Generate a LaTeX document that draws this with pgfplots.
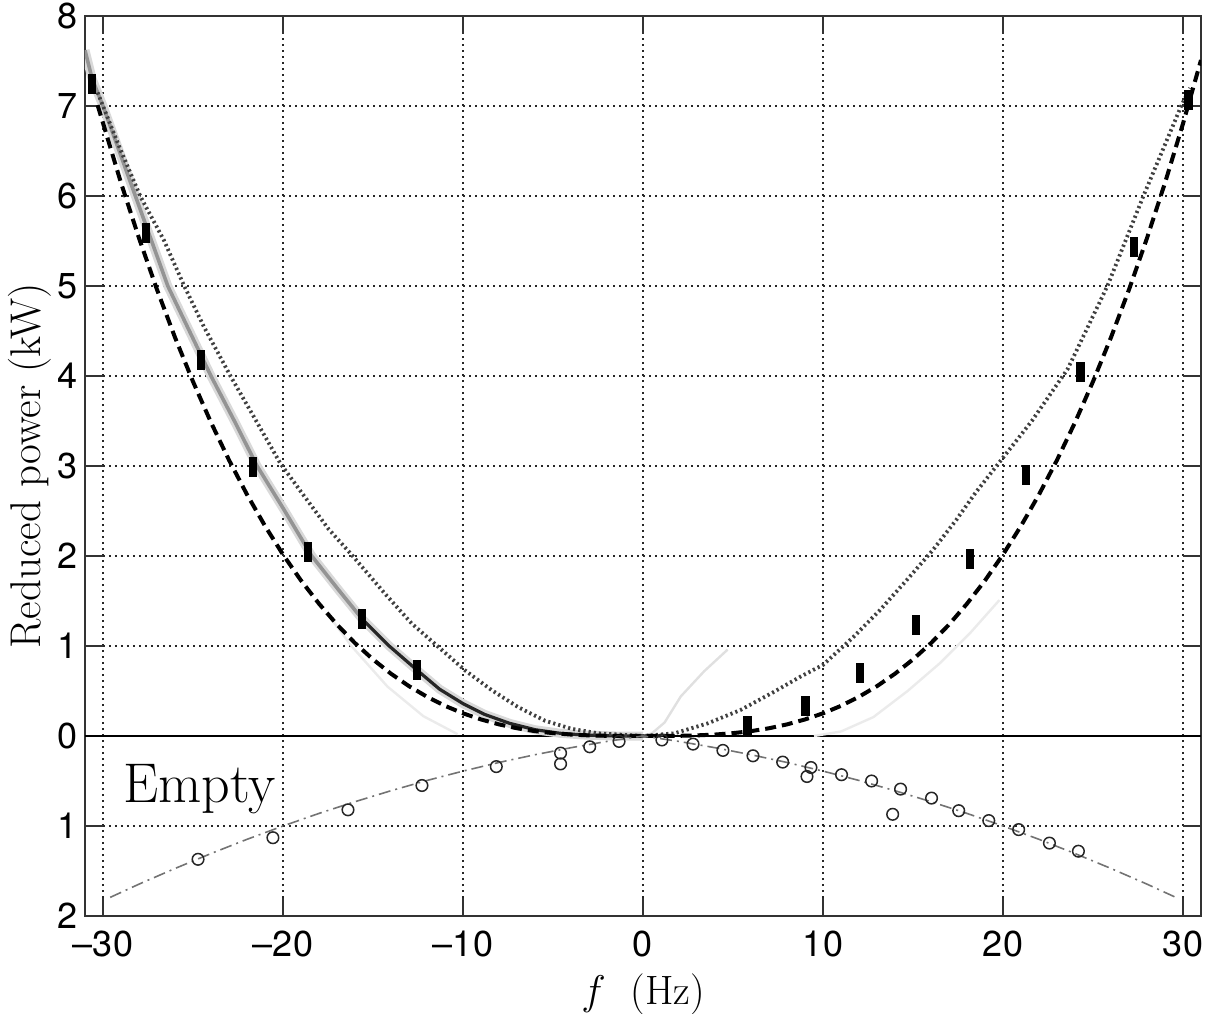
\documentclass[border=0pt]{standalone}
\usepackage{pgfplots}
\pgfplotsset{compat=1.18}
\usepackage{fontspec}
\newfontfamily\helv{TeX Gyre Heros}
\begin{document}
\begin{tikzpicture}
\begin{axis}[
  scale only axis, width=558pt, height=450pt,
  xmin=-31, xmax=31, ymin=-2, ymax=8,
  xtick={-30,-20,...,30}, xticklabels={–30,–20,–10,0,10,20,30},
  ytick={-2,-1,...,8}, yticklabels={2,1,0,1,2,3,4,5,6,7,8},
  tick align=inside, tick pos=both, major tick length=9pt,
  grid=major,
  major grid style={black!85, line width=0.6pt, dash pattern=on 0.9pt off 2.1pt},
  axis line style={black!80, line width=0.8pt},
  every tick/.style={black!80, line width=0.8pt},
  ticklabel style={font=\helv\fontsize{18}{21}\selectfont},
  xticklabel style={inner sep=0pt, yshift=-7.5pt},
  yticklabel style={inner sep=0pt, xshift=-3.5pt},
  xlabel={$f$\ \ (Hz)},
  xlabel style={font=\fontsize{20.5}{24}\selectfont, at={(rel axis cs:0.5,0)}, anchor=base, yshift=-44pt},
  ylabel={Reduced power (kW)},
  ylabel style={font=\fontsize{21.5}{26}\selectfont, at={(rel axis cs:0,0.5)}, anchor=center, yshift=27.5pt},
]
% zero line
\addplot[black, line width=0.6pt] coordinates {(-31,0) (31,0)};
% faint mirror traces
\addplot[black!12, line width=1.2pt] coordinates {(0,0) (0.5,0.03) (1.2,0.15) (2.1,0.44) (3.4,0.72) (4.7,0.96)};
\addplot[black!8, line width=1.2pt] coordinates {(9.5,0) (11,0.05) (12.8,0.21) (14.7,0.5) (16.5,0.81) (18.2,1.15) (19.8,1.51)};
\addplot[black!8, line width=1.2pt] coordinates {(-10.3,0.02) (-12.2,0.22) (-14.2,0.55) (-16.2,1.0) (-17.5,1.35)};
% gray ridge (left)
\addplot[black!15, line width=4.5pt] coordinates {(-31.0,7.62) (-30.6,7.3) (-30.0,7.0) (-29.1,6.5) (-28.2,6.0) (-27.3,5.5) (-26.4,5.0) (-25.2,4.5) (-24.0,4.0) (-22.7,3.5) (-21.44,3.0) (-19.9,2.5) (-18.4,2.0) (-16.9,1.62) (-15.6,1.30) (-14.1,1.0) (-12.6,0.74) (-11.3,0.52) (-10.0,0.36) (-8.8,0.24) (-7.4,0.14) (-6.0,0.07) (-4.6,0.03) (-3.2,0.01) (-1.5,0) (0,0)};
\addplot[black!42, line width=1.8pt] coordinates {(-31.0,7.62) (-30.6,7.3) (-30.0,7.0) (-29.1,6.5) (-28.2,6.0) (-27.3,5.5) (-26.4,5.0) (-25.2,4.5) (-24.0,4.0) (-22.7,3.5) (-21.44,3.0) (-19.9,2.5) (-18.4,2.0) (-16.9,1.62) (-15.6,1.30)};
\addplot[black!85, line width=1.6pt] coordinates {(-15.6,1.30) (-14.1,1.0) (-12.6,0.74) (-11.3,0.52) (-10.0,0.36) (-8.8,0.24) (-7.4,0.14) (-6.0,0.07) (-4.6,0.03) (-3.2,0.01) (-1.5,0) (0,0) (1,0)};
% dotted curve
\addplot[black!75, line width=1.9pt, dash pattern=on 1.1pt off 1.5pt] coordinates {(-30.3,7.15) (-29.02,6.51) (-27.91,5.99) (-26.62,5.51) (-25.51,5.01) (-24.4,4.55) (-22.92,4.0) (-21.63,3.55) (-20.15,3.03) (-18.95,2.7) (-17.47,2.3) (-16.17,2.01) (-14.33,1.58) (-12.85,1.25) (-11.37,0.99) (-9.89,0.73) (-8.41,0.51) (-6.93,0.32) (-5.45,0.17) (-3.97,0.08) (-2.5,0.03) (0,0) (1.75,0.03) (3.59,0.14) (5.43,0.29) (7.27,0.49) (8.75,0.66) (10,0.79) (11.69,1.10) (13.17,1.40) (14.64,1.73) (16.12,2.07) (17.4,2.4) (18.5,2.71) (19.6,2.99) (21.6,3.5) (23.6,4.08) (25.8,5.0) (27.8,6.0) (29.9,7.0) (30.4,7.2)};
% dashed curve
\addplot[black, line width=2pt, dash pattern=on 5.5pt off 3pt] coordinates {(-30.3,7.01) (-29,6.146) (-28,5.532) (-27,4.960) (-26,4.429) (-25,3.938) (-24,3.484) (-23,3.066) (-22,2.683) (-21,2.334) (-20,2.016) (-19,1.728) (-18,1.470) (-17,1.238) (-16,1.032) (-15,0.851) (-14,0.692) (-13,0.554) (-12,0.436) (-11,0.335) (-10,0.252) (-9,0.184) (-8,0.129) (-7,0.086) (-6,0.054) (-5,0.032) (-4,0.016) (-3,0.007) (-2,0.002) (0,0) (2,0.002) (3,0.007) (4,0.016) (5,0.032) (6,0.054) (7,0.086) (8,0.129) (9,0.184) (10,0.252) (11,0.335) (12,0.436) (13,0.554) (14,0.692) (15,0.851) (16,1.032) (17,1.238) (18,1.470) (19,1.728) (20,2.016) (21,2.334) (22,2.683) (23,3.066) (24,3.484) (25,3.938) (26,4.429) (27,4.960) (28,5.532) (29,6.146) (30,6.804) (31,7.51)};
% measured points (black bars)
\addplot[only marks, mark=square*, mark size=5pt, mark options={black, xscale=0.36, yscale=0.95}] coordinates {(-30.6,7.25) (-27.63,5.59) (-24.58,4.18) (-21.68,2.99) (-18.6,2.05) (-15.62,1.30) (-12.57,0.73) (5.8,0.11) (9.02,0.33) (12.06,0.70) (15.16,1.24) (18.14,1.97) (21.26,2.90) (24.3,4.05) (27.26,5.44) (30.3,7.07)};
% empty losses fit (dash-dot)
\addplot[black!55, line width=0.8pt, dash pattern=on 6pt off 2.5pt on 1pt off 2.5pt] coordinates {(-29.6,-1.793) (-28,-1.646) (-26,-1.472) (-24,-1.306) (-22,-1.148) (-20,-1.0) (-18,-0.86) (-16,-0.73) (-14,-0.608) (-12,-0.494) (-10,-0.39) (-8,-0.294) (-6,-0.208) (-4,-0.13) (-2,-0.06) (0,0) (2,-0.06) (4,-0.13) (6,-0.208) (8,-0.294) (10,-0.39) (12,-0.494) (14,-0.608) (16,-0.73) (18,-0.86) (20,-1.0) (22,-1.148) (24,-1.306) (26,-1.472) (28,-1.646) (29.6,-1.793)};
% empty losses measurements
\addplot[only marks, mark=o, mark size=2.9pt, mark options={black!85, line width=0.75pt}] coordinates {(-24.72,-1.37) (-20.56,-1.13) (-16.39,-0.82) (-12.28,-0.55) (-8.15,-0.34) (-4.58,-0.19) (-4.58,-0.31) (-2.96,-0.12) (-1.33,-0.06) (1.05,-0.044) (2.78,-0.09) (4.44,-0.16) (6.11,-0.22) (7.76,-0.29) (9.33,-0.35) (9.11,-0.45) (11.03,-0.43) (12.7,-0.50) (14.31,-0.59) (13.87,-0.87) (16.03,-0.69) (17.54,-0.83) (19.21,-0.94) (20.87,-1.04) (22.58,-1.19) (24.19,-1.28)};
\node[anchor=base west, font=\fontsize{28}{33}\selectfont, inner sep=0pt] at (axis cs:-28.9,-0.74) {Empty};
\end{axis}
\pgfresetboundingbox
\path[use as bounding box] (current axis.south west) ++(-42.5pt,-48.5pt) rectangle ++(608pt,506.5pt);
\end{tikzpicture}
\end{document}
